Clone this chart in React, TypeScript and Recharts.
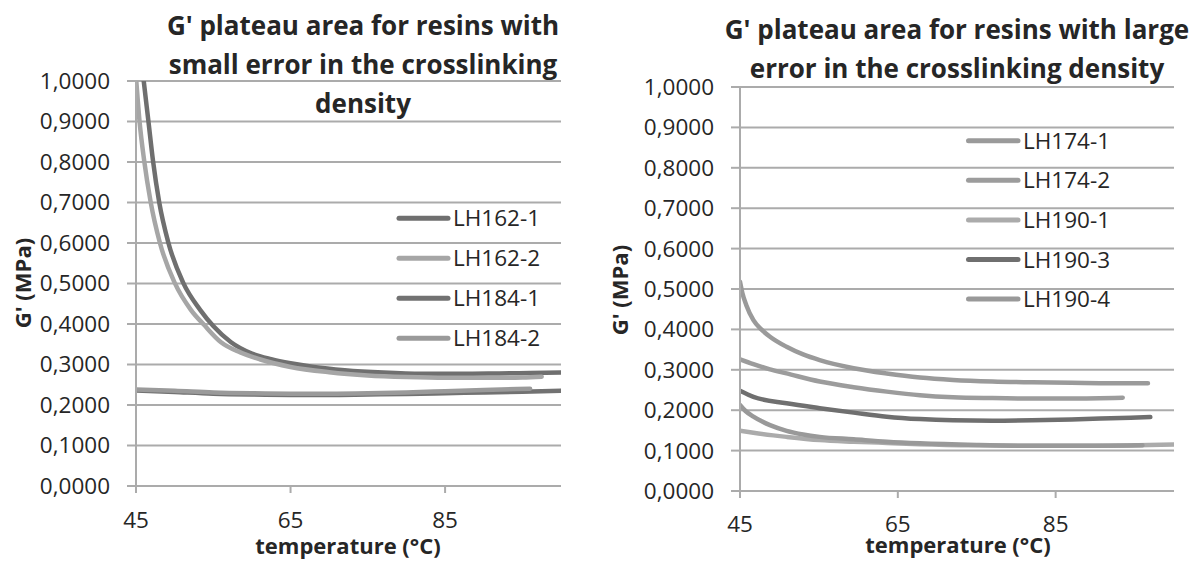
import { LineChart, Line, XAxis, YAxis, CartesianGrid } from "recharts";

const FONT = '"Open Sans", sans-serif';
const TEXT = "#262626";
const GRID = "#ababab";

const yTicks = [0, 0.1, 0.2, 0.3, 0.4, 0.5, 0.6, 0.7, 0.8, 0.9, 1];
const xTicks = [45, 65, 85];

// left chart: small error in the crosslinking density
const lh162_1T = [45.5, 46.0, 46.6, 47.2, 48.0, 49.2, 51.1, 53.3, 55.0, 57.3, 60, 62.5, 65, 68, 72, 77, 82, 87, 92, 96, 100];
const lh162_1G = [1.09, 1.0, 0.902, 0.803, 0.701, 0.6, 0.502, 0.435, 0.395, 0.355, 0.327, 0.313, 0.303, 0.294, 0.286, 0.28, 0.277, 0.277, 0.278, 0.279, 0.28];
const lh162_2T = [45.0, 45.45, 46.06, 46.9, 48.1, 50.0, 52.1, 53.8, 56, 58.5, 61, 65, 70, 75, 80, 85, 90, 95, 97.5];
const lh162_2G = [1.01, 0.902, 0.803, 0.701, 0.6, 0.502, 0.435, 0.398, 0.355, 0.33, 0.313, 0.294, 0.281, 0.273, 0.269, 0.267, 0.267, 0.268, 0.27];
const lh184_1T = [45, 50, 55, 60, 65, 70, 75, 80, 85, 90, 95, 100];
const lh184_1G = [0.236, 0.232, 0.228, 0.226, 0.225, 0.225, 0.226, 0.227, 0.229, 0.231, 0.233, 0.235];
const lh184_2T = [45, 50, 55, 60, 65, 70, 75, 80, 85, 90, 96];
const lh184_2G = [0.238, 0.235, 0.231, 0.229, 0.228, 0.228, 0.229, 0.231, 0.234, 0.237, 0.24];

// right chart: large error in the crosslinking density
const lh174_1T = [45, 45.3, 45.8, 46.7, 47.7, 48.8, 50.9, 53, 55.1, 59.4, 63.6, 67.8, 72, 77, 82, 87, 92, 96.7];
const lh174_1G = [0.518, 0.49, 0.46, 0.423, 0.4, 0.382, 0.357, 0.338, 0.324, 0.304, 0.291, 0.281, 0.275, 0.271, 0.269, 0.268, 0.267, 0.267];
const lh174_2T = [45, 46.7, 48.8, 50.9, 55.1, 59.4, 63.6, 67.8, 72, 77, 82, 87, 93.5];
const lh174_2G = [0.326, 0.314, 0.301, 0.291, 0.271, 0.257, 0.246, 0.237, 0.232, 0.23, 0.229, 0.229, 0.231];
const lh190_1T = [45, 46.7, 50.9, 55.1, 59.4, 63.6, 67.8, 75, 82, 90, 100];
const lh190_1G = [0.149, 0.144, 0.134, 0.126, 0.122, 0.119, 0.116, 0.113, 0.112, 0.112, 0.115];
const lh190_3T = [45, 46.7, 50.9, 55.1, 59.4, 63.6, 67.8, 72, 77, 82, 87, 92, 97];
const lh190_3G = [0.248, 0.233, 0.217, 0.205, 0.194, 0.184, 0.178, 0.175, 0.174, 0.175, 0.177, 0.18, 0.183];
const lh190_4T = [45, 45.7, 46.7, 47.7, 48.8, 50.9, 53, 55.1, 59.4, 63.6, 67.8, 75, 82, 90, 96];
const lh190_4G = [0.213, 0.198, 0.184, 0.173, 0.163, 0.149, 0.14, 0.134, 0.128, 0.122, 0.118, 0.114, 0.112, 0.112, 0.113];

interface Series {
  name: string;
  color: string;
  temps: number[];
  values: number[];
}

const leftSeries: Series[] = [
  { name: "LH162-1", color: "#6f6f6f", temps: lh162_1T, values: lh162_1G },
  { name: "LH162-2", color: "#a6a6a6", temps: lh162_2T, values: lh162_2G },
  { name: "LH184-1", color: "#727272", temps: lh184_1T, values: lh184_1G },
  { name: "LH184-2", color: "#9a9a9a", temps: lh184_2T, values: lh184_2G },
];

const rightSeries: Series[] = [
  { name: "LH174-1", color: "#9a9a9a", temps: lh174_1T, values: lh174_1G },
  { name: "LH174-2", color: "#9c9c9c", temps: lh174_2T, values: lh174_2G },
  { name: "LH190-1", color: "#ababab", temps: lh190_1T, values: lh190_1G },
  { name: "LH190-3", color: "#6f6f6f", temps: lh190_3T, values: lh190_3G },
  { name: "LH190-4", color: "#999999", temps: lh190_4T, values: lh190_4G },
];

const toRows = (s: Series) => s.temps.map((t, i) => ({ t, g: s.values[i] }));
const fmt = (v: number) => v.toFixed(4).replace(".", ",");

interface PanelProps {
  x: number;
  series: Series[];
  plotTop: number;
  plotBottom: number;
  plotLeft: number;
  plotRight: number;
  xTickMargin: number;
}

function Panel({ x, series, plotTop, plotBottom, plotLeft, plotRight, xTickMargin }: PanelProps) {
  const tickStyle = { fill: TEXT, fontSize: 22.5, fontFamily: FONT };
  return (
    <div style={{ position: "absolute", left: x, top: 0 }}>
      <LineChart
        width={600}
        height={561}
        margin={{ top: plotTop, right: 600 - plotRight, bottom: 0, left: 0 }}
      >
        <CartesianGrid vertical={false} stroke={GRID} strokeWidth={2} />
        <XAxis
          type="number"
          dataKey="t"
          domain={[45, 100]}
          ticks={xTicks}
          interval={0}
          allowDataOverflow
          height={561 - plotBottom}
          tick={tickStyle}
          tickSize={7}
          tickMargin={xTickMargin}
          axisLine={{ stroke: GRID, strokeWidth: 2 }}
          tickLine={{ stroke: GRID, strokeWidth: 2 }}
        />
        <YAxis
          type="number"
          domain={[0, 1]}
          ticks={yTicks}
          interval={0}
          allowDataOverflow
          width={plotLeft}
          tickFormatter={fmt}
          tick={tickStyle}
          tickSize={9}
          tickMargin={17}
          axisLine={{ stroke: GRID, strokeWidth: 2 }}
          tickLine={{ stroke: GRID, strokeWidth: 2 }}
        />
        {series.map((s) => (
          <Line
            key={s.name}
            name={s.name}
            data={toRows(s)}
            dataKey="g"
            type="monotone"
            stroke={s.color}
            strokeWidth={4.5}
            strokeLinecap="round"
            dot={false}
            activeDot={false}
            isAnimationActive={false}
          />
        ))}
      </LineChart>
    </div>
  );
}

function LegendBlock({ series, x1, x2, top, step }: { series: Series[]; x1: number; x2: number; top: number; step: number }) {
  return (
    <g>
      {series.map((s, i) => {
        const y = top + i * step;
        return (
          <g key={s.name}>
            <line x1={x1} x2={x2} y1={y} y2={y} stroke={s.color} strokeWidth={5} strokeLinecap="round" />
            <text x={x2 + 5} y={y + 8} fontSize={22.5} fontFamily={FONT} fill={TEXT}>
              {s.name}
            </text>
          </g>
        );
      })}
    </g>
  );
}

export default function App() {
  const titleStyle = { fontFamily: FONT, fontWeight: 700, fontSize: 26, fill: TEXT };
  const axisTitle = { fontFamily: FONT, fontWeight: 700, fontSize: 22, fill: TEXT };
  return (
    <div style={{ position: "absolute", left: 0, top: 0, width: 1200, height: 561, background: "#fff" }}>
      <Panel x={0} series={leftSeries} plotTop={81} plotBottom={486} plotLeft={136} plotRight={561} xTickMargin={19} />
      <Panel x={600} series={rightSeries} plotTop={87} plotBottom={491} plotLeft={140} plotRight={574} xTickMargin={18} />
      <svg width={1200} height={561} style={{ position: "absolute", left: 0, top: 0, pointerEvents: "none" }}>
        <text textAnchor="middle" {...titleStyle}>
          <tspan x={363} y={35}>G' plateau area for resins with</tspan>
          <tspan x={363} y={74}>small error in the crosslinking</tspan>
          <tspan x={363} y={113}>density</tspan>
        </text>
        <text textAnchor="middle" {...titleStyle}>
          <tspan x={957} y={38.5}>G' plateau area for resins with large</tspan>
          <tspan x={957} y={77.5}>error in the crosslinking density</tspan>
        </text>
        <text x={348} y={554} textAnchor="middle" {...axisTitle}>temperature (°C)</text>
        <text x={958} y={553} textAnchor="middle" {...axisTitle}>temperature (°C)</text>
        <text x={31} y={283} textAnchor="middle" transform="rotate(-90 31 283)" {...axisTitle}>G' (MPa)</text>
        <text x={628} y={290} textAnchor="middle" transform="rotate(-90 628 290)" {...axisTitle}>G' (MPa)</text>
        <LegendBlock series={leftSeries} x1={399} x2={448} top={218.3} step={40} />
        <LegendBlock series={rightSeries} x1={968.5} x2={1018} top={140.7} step={39.6} />
      </svg>
    </div>
  );
}
